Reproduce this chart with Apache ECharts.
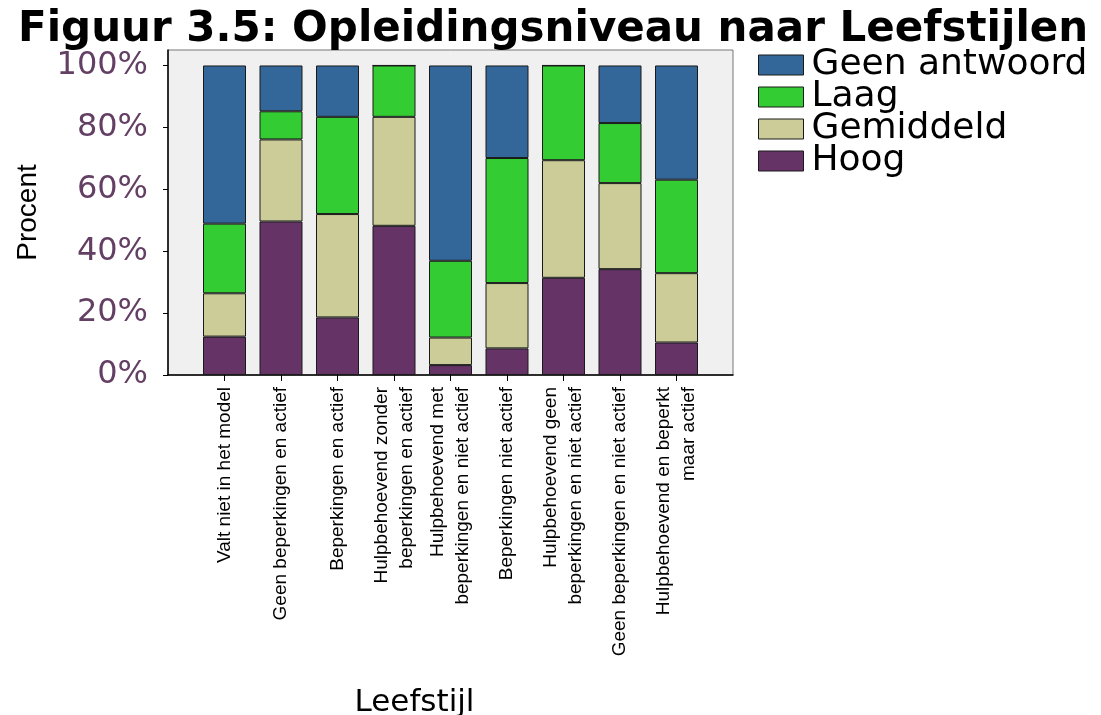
<!DOCTYPE html>
<html>
<head>
<meta charset="utf-8">
<script src="https://cdn.jsdelivr.net/npm/echarts@6/dist/echarts.min.js"></script>
<style>
  html, body { margin: 0; padding: 0; background: #ffffff; }
  #main { width: 1101px; height: 715px; }
</style>
</head>
<body>
<div id="main"></div>
<script>
// Leefstijlen (x categories)
var categories = [
  "Valt niet in het model",
  "Geen beperkingen en actief",
  "Beperkingen en actief",
  "Hulpbehoevend zonder\nbeperkingen en actief",
  "Hulpbehoevend met\nbeperkingen en niet actief",
  "Beperkingen niet actief",
  "Hulpbehoevend geen\nbeperkingen en niet actief",
  "Geen beperkingen en niet actief",
  "Hulpbehoevend en beperkt\nmaar actief"
];

// percentages per opleidingsniveau (stacked from bottom to top)
var hoog = [12.4, 49.6, 18.6, 48.2, 3.2, 8.6, 31.4, 34.2, 10.5];
var gemiddeld = [14.0, 26.5, 33.4, 35.2, 8.9, 21.1, 38.0, 27.8, 22.4];
var laag = [22.5, 9.1, 31.4, 16.6, 24.8, 40.4, 30.6, 19.4, 30.2];
var geenAntwoord = [51.1, 14.8, 16.6, 0, 63.1, 29.9, 0, 18.6, 36.9];

var yTicks = [0, 20, 40, 60, 80, 100];

var chart = echarts.init(document.getElementById("main"));

// pad one empty slot on each side so the bars sit like in the original
function padded(arr, fill) {
  return [fill].concat(arr).concat([fill]);
}

function barSeries(name, values, color) {
  return {
    name: name,
    type: "bar",
    stack: "total",
    barWidth: 43,
    data: padded(values, "-"),
    itemStyle: { color: color, borderColor: "#1a1a1a", borderWidth: 1 },
  };
}

var option = {
  backgroundColor: "#ffffff",
  animation: false,
  title: {
    text: "Figuur 3.5: Opleidingsniveau naar Leefstijlen",
    left: 13,
    top: 9,
    padding: [0, 5],
    textStyle: {
      fontFamily: "DejaVu Sans",
      fontWeight: "bold",
      fontSize: 42,
      color: "#000000",
    },
  },
  legend: {
    orient: "vertical",
    left: 758,
    top: 47,
    padding: 0,
    icon: "rect",
    itemWidth: 45,
    itemHeight: 20,
    itemGap: -4,
    itemStyle: { borderColor: "#1a1a1a", borderWidth: 1 },
    data: ["Geen antwoord", "Laag", "Gemiddeld", "Hoog"],
    textStyle: {
      fontFamily: "DejaVu Sans",
      fontSize: 36,
      color: "#000000",
      padding: [0, 0, 0, 3],
    },
  },
  grid: {
    left: 168,
    right: 1101 - 733,
    top: 50,
    bottom: 715 - 375,
    outerBoundsMode: "none",
    containLabel: false,
    show: true,
    backgroundColor: "#f0f0f0",
    borderColor: "#777777",
    borderWidth: 1,
  },
  xAxis: {
    type: "category",
    boundaryGap: false,
    data: padded(categories, ""),
    name: "Leefstijl",
    nameLocation: "middle",
    nameGap: 312,
    nameTextStyle: {
      fontFamily: "DejaVu Sans",
      fontSize: 31,
      color: "#000000",
      padding: [0, 72, 0, 0],
    },
    axisLine: { lineStyle: { color: "#000000", width: 1.5 } },
    axisTick: {
      length: 6,
      lineStyle: { color: "#000000" },
      interval: function (index) {
        return index > 0 && index <= categories.length;
      },
    },
    axisLabel: {
      rotate: 90,
      interval: 0,
      margin: 12,
      fontFamily: "'Liberation Sans', Arial, sans-serif",
      fontSize: 19,
      lineHeight: 25,
      color: "#000000",
    },
    splitLine: { show: false },
  },
  yAxis: {
    type: "value",
    min: 0,
    max: 105,
    interval: 20,
    name: "Procent",
    nameLocation: "middle",
    nameGap: 126,
    nameTextStyle: {
      fontFamily: "'Liberation Sans', Arial, sans-serif",
      fontSize: 28,
      color: "#000000",
    },
    axisLine: { show: true, lineStyle: { color: "#000000", width: 1.5 } },
    axisTick: {
      show: true,
      length: 5,
      customValues: yTicks,
      lineStyle: { color: "#000000" },
    },
    axisLabel: {
      margin: 20,
      fontFamily: "DejaVu Sans",
      fontSize: 32,
      color: "#633f63",
      customValues: yTicks,
      formatter: function (v) {
        return v + "%";
      },
    },
    splitLine: { show: false },
  },
  series: [
    barSeries("Hoog", hoog, "#663366"),
    barSeries("Gemiddeld", gemiddeld, "#cccc99"),
    barSeries("Laag", laag, "#33cc33"),
    barSeries("Geen antwoord", geenAntwoord, "#336699"),
  ],
};

chart.setOption(option);

window.addEventListener("resize", function () {
  chart.resize();
});
</script>
</body>
</html>
